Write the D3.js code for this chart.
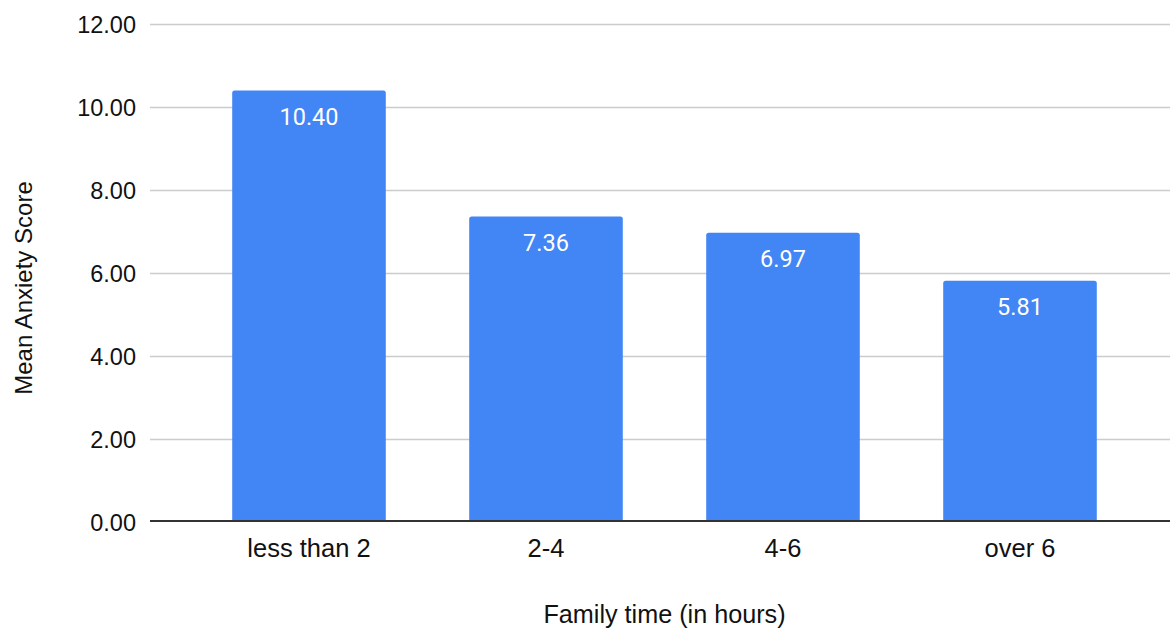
<!DOCTYPE html>
<html>
<head>
<meta charset="utf-8">
<script src="https://cdn.jsdelivr.net/npm/d3@7"></script>
<style>
  html, body { margin: 0; padding: 0; background: #fff; }
  svg { display: block; }
</style>
</head>
<body>
<svg id="chart" width="1170" height="628"></svg>
<script>
// Mean anxiety score by daily family time
const categories = ["less than 2", "2-4", "4-6", "over 6"];
const meanScores = [10.40, 7.36, 6.97, 5.81];
const yTicks = [0, 2, 4, 6, 8, 10, 12];
const yTitle = "Mean Anxiety Score";
const xTitle = "Family time (in hours)";

const svg = d3.select("#chart");
const axisFont = "Arial, 'Liberation Sans', sans-serif";
const valueFont = "Roboto, Arial, sans-serif";

const plot = { left: 150, right: 1170, top: 24.3, bottom: 521.5 };

const y = d3.scaleLinear().domain([0, 12]).range([plot.bottom, plot.top]);
const x = d3.scaleBand()
  .domain(categories)
  .range([190.5, 1138.5])
  .paddingInner(0.352)
  .paddingOuter(0.176);

// horizontal gridlines
svg.append("g")
  .selectAll("line")
  .data(yTicks.filter(d => d !== 0))
  .join("line")
  .attr("x1", plot.left)
  .attr("x2", plot.right)
  .attr("y1", d => Math.round(y(d)) + 0.5)
  .attr("y2", d => Math.round(y(d)) + 0.5)
  .attr("stroke", "#cccccc")
  .attr("stroke-width", 1.5);

// y tick labels
svg.append("g")
  .selectAll("text")
  .data(yTicks)
  .join("text")
  .attr("x", 136)
  .attr("y", d => y(d) + 9)
  .attr("text-anchor", "end")
  .attr("font-family", axisFont)
  .attr("font-size", 23.5)
  .attr("fill", "#111")
  .text(d => d3.format(".2f")(d));

// bars with slightly rounded top corners
const r = 2.5;
svg.append("g")
  .selectAll("path")
  .data(categories)
  .join("path")
  .attr("d", (c, i) => {
    const x0 = x(c), w = x.bandwidth();
    const top = y(meanScores[i]), base = y(0);
    return `M${x0},${base}V${top + r}Q${x0},${top} ${x0 + r},${top}` +
           `H${x0 + w - r}Q${x0 + w},${top} ${x0 + w},${top + r}V${base}Z`;
  })
  .attr("fill", "#4285f4");

// value labels inside bars
svg.append("g")
  .selectAll("text")
  .data(categories)
  .join("text")
  .attr("x", c => x(c) + x.bandwidth() / 2)
  .attr("y", (c, i) => y(meanScores[i]) + 34.5)
  .attr("text-anchor", "middle")
  .attr("font-family", valueFont)
  .attr("font-size", 23.5)
  .attr("fill", "#ffffff")
  .text((c, i) => d3.format(".2f")(meanScores[i]));

// baseline
svg.append("line")
  .attr("x1", plot.left)
  .attr("x2", plot.right)
  .attr("y1", y(0) - 0.5)
  .attr("y2", y(0) - 0.5)
  .attr("stroke", "#333333")
  .attr("stroke-width", 2);

// x tick labels
svg.append("g")
  .selectAll("text")
  .data(categories)
  .join("text")
  .attr("x", c => x(c) + x.bandwidth() / 2)
  .attr("y", 557)
  .attr("text-anchor", "middle")
  .attr("font-family", axisFont)
  .attr("font-size", 25.5)
  .attr("fill", "#111")
  .text(d => d);

// axis titles
svg.append("text")
  .attr("x", 664.5)
  .attr("y", 623)
  .attr("text-anchor", "middle")
  .attr("font-family", axisFont)
  .attr("font-size", 25.2)
  .attr("fill", "#111")
  .text(xTitle);

svg.append("text")
  .attr("transform", "translate(32,288) rotate(-90)")
  .attr("text-anchor", "middle")
  .attr("font-family", axisFont)
  .attr("font-size", 24)
  .attr("fill", "#111")
  .text(yTitle);
</script>
</body>
</html>
